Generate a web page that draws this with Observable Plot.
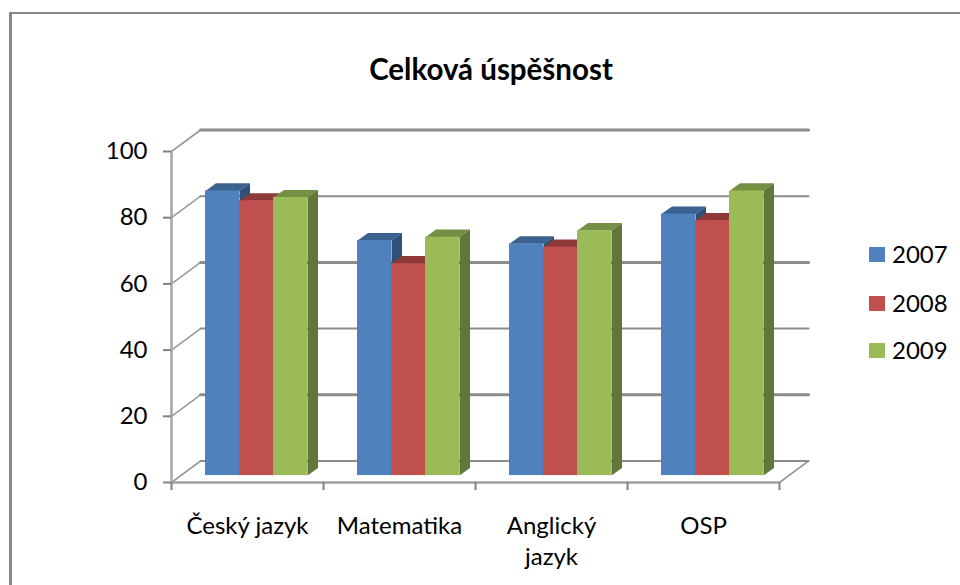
<!DOCTYPE html>
<html><head><meta charset="utf-8">
<script src="https://cdn.jsdelivr.net/npm/d3@7"></script>
<script src="https://cdn.jsdelivr.net/npm/@observablehq/plot@0.6"></script>
<style>
html,body{margin:0;padding:0;background:#fff;overflow:hidden}
#wrap{position:relative;width:960px;height:585px;overflow:hidden;font-family:Lato,sans-serif;color:#000}
#frame{position:absolute;left:9px;top:12px;width:960px;height:580px;border-left:3px solid #878787;border-top:2px solid #878787}
#title{position:absolute;left:0;top:51px;width:982px;text-align:center;font-size:29.5px;font-weight:700;line-height:36px}
#legend{position:absolute;left:869px;top:235px}
.item{position:absolute;left:0;display:flex;align-items:center;font-size:24px;line-height:30px;white-space:nowrap}
.sw{width:16px;height:15px;margin-right:7px}
svg{position:absolute;left:0;top:0;overflow:visible}
</style></head><body>
<div id="wrap"><div id="frame"></div><div id="title">Celková úspěšnost</div><div id="legend"></div><div id="chart"></div></div>
<script>
const categories = ["Český jazyk","Matematika","Anglický\njazyk","OSP"];
const years = ["2007","2008","2009"];
const v2007 = [86,71,70,79];
const v2008 = [83,64,69,77];
const v2009 = [84,72,74,86];
const series = [v2007,v2008,v2009];
const colors = ["#4F81BD","#C0504D","#9BBB59"];
const topColors = ["#3B618E","#8F3A38","#759045"];
const sideColors = ["#315078","#7A302E","#63763A"];
const yTicks = [0,20,40,60,80,100];
const gridWidths = [2,3,2,3,2,3];

// oblique depth, in data units
const wallDx = 0.191, wallDy = 6.5;
const barDx = 0.069, barDy = 2.3, barBase = 2.1, barW = 0.2237;

const front = [], faces = [];
categories.forEach((c,i)=>{
  years.forEach((yr,s)=>{
    const v = series[s][i];
    const x1 = i + barW*(s+1), x2 = x1 + barW, y1 = barBase, y2 = v + barBase;
    front.push({x1,x2,y1,y2,fill:colors[s]});
    faces.push(
      {id:`t${i}${s}`,fill:topColors[s],x:x1,y:y2},
      {id:`t${i}${s}`,fill:topColors[s],x:x1+barDx,y:y2+barDy},
      {id:`t${i}${s}`,fill:topColors[s],x:x2+barDx,y:y2+barDy},
      {id:`t${i}${s}`,fill:topColors[s],x:x2,y:y2},
      {id:`s${i}${s}`,fill:sideColors[s],x:x2,y:y1},
      {id:`s${i}${s}`,fill:sideColors[s],x:x2+barDx,y:y1+barDy},
      {id:`s${i}${s}`,fill:sideColors[s],x:x2+barDx,y:y2+barDy},
      {id:`s${i}${s}`,fill:sideColors[s],x:x2,y:y2}
    );
  });
});

const floorEdge = [{x:4,y:0},{x:4+wallDx,y:wallDy}];
const labels = categories.map((c,i)=>({c,x:i+0.5}));
const diag = yTicks.flatMap((t,k)=>[{k,x:0,y:t},{k,x:wallDx,y:t+wallDy}]);
const backLines = yTicks.map((t,k)=>({y:t+wallDy,x1:wallDx,x2:4+wallDx,w:gridWidths[k]}));

const chart = Plot.plot({
  width:960,height:585,
  marginLeft:171,marginRight:181,marginTop:151,marginBottom:103,
  x:{domain:[0,4],axis:null},
  y:{domain:[0,100],axis:null},
  color:{type:"identity"},
  style:{background:"transparent",fontFamily:"Lato,sans-serif",overflow:"visible"},
  marks:[
    Plot.line(diag,{x:"x",y:"y",z:"k",stroke:"#9a9a9a",strokeWidth:1.6}),
    Plot.line(floorEdge,{x:"x",y:"y",stroke:"#9a9a9a",strokeWidth:1.6}),
    ...backLines.map(d=>Plot.line([{x:d.x1,y:d.y},{x:d.x2,y:d.y}],{x:"x",y:"y",stroke:"#8c8c8c",strokeWidth:d.w})),
    Plot.ruleX([0],{y1:0,y2:100,stroke:"#a6a6a6",strokeWidth:2.5}),
    Plot.ruleY([0],{x1:0,x2:4,stroke:"#a0a0a0",strokeWidth:2.5}),
    Plot.axisY({ticks:yTicks,tickSize:8,tickPadding:16,stroke:"#808080",strokeWidth:2,fontSize:24,color:"#000",label:null,textStroke:"none"}),
    Plot.axisX({ticks:[0,1,2,3,4],tickSize:8,tickFormat:()=>"",stroke:"#808080",strokeWidth:2,label:null}),
    Plot.line(faces,{x:"x",y:"y",z:"id",fill:"fill",stroke:null}),
    Plot.rect(front,{x1:"x1",x2:"x2",y1:"y1",y2:"y2",fill:"fill"}),
    Plot.text(labels,{x:"x",y:()=>0,text:"c",dy:29,lineAnchor:"top",lineHeight:1.3,fontSize:24,fill:"#000"})
  ]
});
document.getElementById("chart").append(chart);

const legendTops=[4,53,100];
const legend=document.getElementById("legend");
years.forEach((y,i)=>{
  const d=document.createElement("div");d.className="item";d.style.top=legendTops[i]+"px";
  d.innerHTML=`<span class="sw" style="background:${colors[i]}"></span>${y}`;
  legend.append(d);
});
</script></body></html>
